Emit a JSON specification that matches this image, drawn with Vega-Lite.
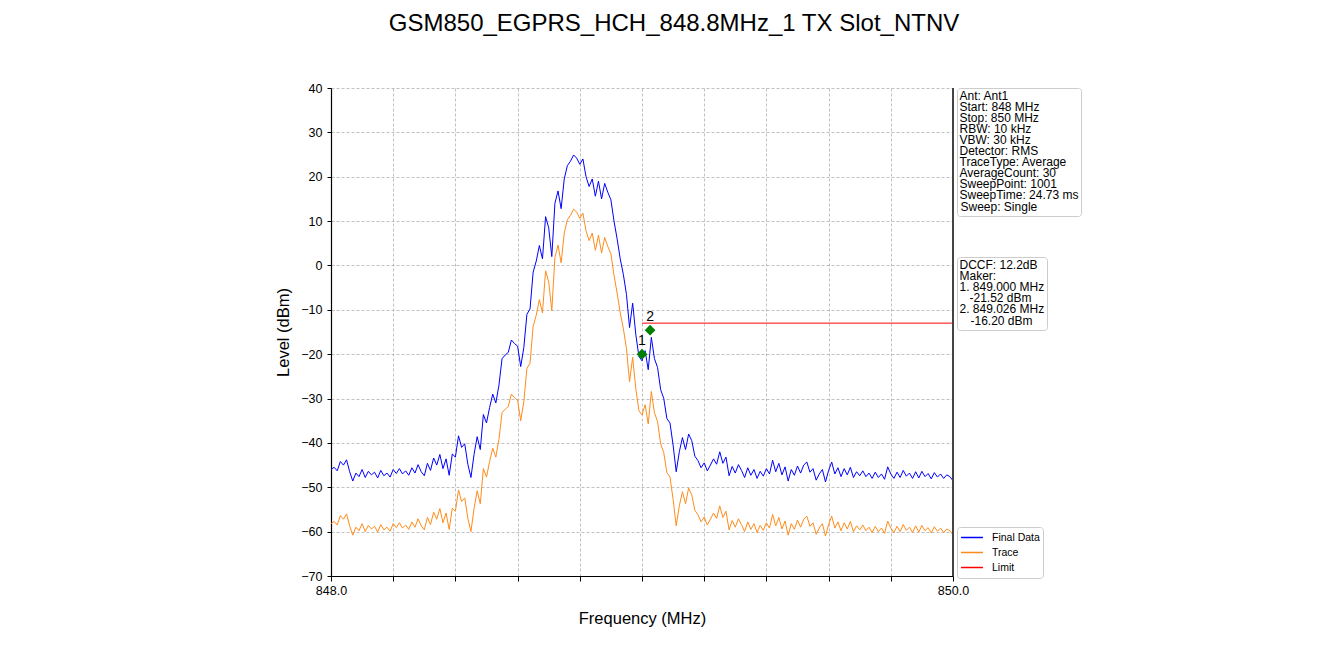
{
  "$schema": "https://vega.github.io/schema/vega-lite/v6.json",
  "width": 622,
  "height": 488,
  "autosize": {"type": "none"},
  "padding": {"left": 331, "top": 88, "right": 387, "bottom": 95},
  "background": "white",
  "title": {
    "text": "GSM850_EGPRS_HCH_848.8MHz_1 TX Slot_NTNV",
    "font": "Liberation Sans",
    "fontSize": 24,
    "fontWeight": "normal",
    "color": "black",
    "anchor": "middle",
    "frame": "group",
    "dx": 32,
    "offset": 46
  },
  "config": {
    "view": {"stroke": null},
    "font": "Liberation Sans",
    "axis": {
      "labelFont": "Liberation Sans",
      "titleFont": "Liberation Sans",
      "labelColor": "black",
      "titleColor": "black",
      "titleFontWeight": "normal",
      "labelFontSize": 12.5,
      "titleFontSize": 16.5,
      "domainColor": "black",
      "domainWidth": 1.2,
      "tickColor": "black",
      "gridColor": "#b0b0b0",
      "gridDash": [3, 2],
      "gridWidth": 0.8
    },
    "legend": {
      "labelFont": "Liberation Sans",
      "titleFont": "Liberation Sans",
      "labelColor": "black",
      "titleColor": "black"
    }
  },
  "data": {
    "values": [
      {"f": 848.00, "Final Data": -46.0, "Trace": -58.2},
      {"f": 848.01, "Final Data": -45.5, "Trace": -57.7},
      {"f": 848.02, "Final Data": -46.3, "Trace": -58.5},
      {"f": 848.03, "Final Data": -44.2, "Trace": -56.4},
      {"f": 848.04, "Final Data": -45.0, "Trace": -57.2},
      {"f": 848.05, "Final Data": -43.8, "Trace": -56.0},
      {"f": 848.06, "Final Data": -46.5, "Trace": -58.7},
      {"f": 848.07, "Final Data": -48.6, "Trace": -60.8},
      {"f": 848.08, "Final Data": -46.8, "Trace": -59.0},
      {"f": 848.09, "Final Data": -47.6, "Trace": -59.8},
      {"f": 848.10, "Final Data": -46.0, "Trace": -58.2},
      {"f": 848.11, "Final Data": -47.8, "Trace": -60.0},
      {"f": 848.12, "Final Data": -46.4, "Trace": -58.6},
      {"f": 848.13, "Final Data": -47.2, "Trace": -59.4},
      {"f": 848.14, "Final Data": -46.6, "Trace": -58.8},
      {"f": 848.15, "Final Data": -47.9, "Trace": -60.1},
      {"f": 848.16, "Final Data": -46.2, "Trace": -58.4},
      {"f": 848.17, "Final Data": -47.4, "Trace": -59.6},
      {"f": 848.18, "Final Data": -46.8, "Trace": -59.0},
      {"f": 848.19, "Final Data": -47.7, "Trace": -59.9},
      {"f": 848.20, "Final Data": -46.0, "Trace": -58.2},
      {"f": 848.21, "Final Data": -46.9, "Trace": -59.1},
      {"f": 848.22, "Final Data": -45.8, "Trace": -58.0},
      {"f": 848.23, "Final Data": -47.0, "Trace": -59.2},
      {"f": 848.24, "Final Data": -46.3, "Trace": -58.5},
      {"f": 848.25, "Final Data": -47.3, "Trace": -59.5},
      {"f": 848.26, "Final Data": -45.6, "Trace": -57.8},
      {"f": 848.27, "Final Data": -46.8, "Trace": -59.0},
      {"f": 848.28, "Final Data": -44.9, "Trace": -57.1},
      {"f": 848.29, "Final Data": -46.5, "Trace": -58.7},
      {"f": 848.30, "Final Data": -47.4, "Trace": -59.6},
      {"f": 848.31, "Final Data": -44.6, "Trace": -56.8},
      {"f": 848.32, "Final Data": -46.2, "Trace": -58.4},
      {"f": 848.33, "Final Data": -43.4, "Trace": -55.6},
      {"f": 848.34, "Final Data": -45.0, "Trace": -57.2},
      {"f": 848.35, "Final Data": -42.6, "Trace": -54.8},
      {"f": 848.36, "Final Data": -45.8, "Trace": -58.0},
      {"f": 848.37, "Final Data": -43.6, "Trace": -55.8},
      {"f": 848.38, "Final Data": -47.3, "Trace": -59.5},
      {"f": 848.39, "Final Data": -42.5, "Trace": -54.7},
      {"f": 848.40, "Final Data": -43.2, "Trace": -55.4},
      {"f": 848.41, "Final Data": -38.4, "Trace": -50.6},
      {"f": 848.42, "Final Data": -41.0, "Trace": -53.2},
      {"f": 848.43, "Final Data": -40.2, "Trace": -52.4},
      {"f": 848.44, "Final Data": -44.8, "Trace": -57.0},
      {"f": 848.45, "Final Data": -47.8, "Trace": -60.0},
      {"f": 848.46, "Final Data": -42.6, "Trace": -54.8},
      {"f": 848.47, "Final Data": -38.6, "Trace": -50.8},
      {"f": 848.48, "Final Data": -41.5, "Trace": -53.7},
      {"f": 848.49, "Final Data": -33.6, "Trace": -45.8},
      {"f": 848.50, "Final Data": -35.5, "Trace": -47.7},
      {"f": 848.51, "Final Data": -32.0, "Trace": -44.2},
      {"f": 848.52, "Final Data": -29.0, "Trace": -41.2},
      {"f": 848.53, "Final Data": -31.0, "Trace": -43.2},
      {"f": 848.54, "Final Data": -27.0, "Trace": -39.2},
      {"f": 848.55, "Final Data": -21.0, "Trace": -33.2},
      {"f": 848.56, "Final Data": -20.2, "Trace": -32.4},
      {"f": 848.57, "Final Data": -19.6, "Trace": -31.8},
      {"f": 848.58, "Final Data": -16.8, "Trace": -29.0},
      {"f": 848.59, "Final Data": -17.6, "Trace": -29.8},
      {"f": 848.60, "Final Data": -18.2, "Trace": -30.4},
      {"f": 848.61, "Final Data": -22.8, "Trace": -35.0},
      {"f": 848.62, "Final Data": -18.5, "Trace": -30.7},
      {"f": 848.63, "Final Data": -11.0, "Trace": -23.2},
      {"f": 848.64, "Final Data": -9.8, "Trace": -22.0},
      {"f": 848.65, "Final Data": -1.5, "Trace": -13.7},
      {"f": 848.66, "Final Data": 1.0, "Trace": -11.2},
      {"f": 848.67, "Final Data": 4.5, "Trace": -7.7},
      {"f": 848.68, "Final Data": 1.5, "Trace": -10.7},
      {"f": 848.69, "Final Data": 11.0, "Trace": -1.2},
      {"f": 848.70, "Final Data": 8.5, "Trace": -3.7},
      {"f": 848.71, "Final Data": 2.0, "Trace": -10.2},
      {"f": 848.72, "Final Data": 14.0, "Trace": 1.8},
      {"f": 848.73, "Final Data": 16.8, "Trace": 4.6},
      {"f": 848.74, "Final Data": 12.8, "Trace": 0.6},
      {"f": 848.75, "Final Data": 19.5, "Trace": 7.3},
      {"f": 848.76, "Final Data": 22.5, "Trace": 10.3},
      {"f": 848.77, "Final Data": 23.5, "Trace": 11.3},
      {"f": 848.78, "Final Data": 24.9, "Trace": 12.7},
      {"f": 848.79, "Final Data": 24.2, "Trace": 12.0},
      {"f": 848.80, "Final Data": 22.8, "Trace": 10.6},
      {"f": 848.81, "Final Data": 24.0, "Trace": 11.8},
      {"f": 848.82, "Final Data": 20.0, "Trace": 7.8},
      {"f": 848.83, "Final Data": 17.8, "Trace": 5.6},
      {"f": 848.84, "Final Data": 19.5, "Trace": 7.3},
      {"f": 848.85, "Final Data": 15.6, "Trace": 3.4},
      {"f": 848.86, "Final Data": 19.0, "Trace": 6.8},
      {"f": 848.87, "Final Data": 15.0, "Trace": 2.8},
      {"f": 848.88, "Final Data": 18.5, "Trace": 6.3},
      {"f": 848.89, "Final Data": 16.5, "Trace": 4.3},
      {"f": 848.90, "Final Data": 14.8, "Trace": 2.6},
      {"f": 848.91, "Final Data": 10.0, "Trace": -2.2},
      {"f": 848.92, "Final Data": 6.0, "Trace": -6.2},
      {"f": 848.93, "Final Data": 1.5, "Trace": -10.7},
      {"f": 848.94, "Final Data": -2.0, "Trace": -14.2},
      {"f": 848.95, "Final Data": -6.5, "Trace": -18.7},
      {"f": 848.96, "Final Data": -14.0, "Trace": -26.2},
      {"f": 848.97, "Final Data": -8.5, "Trace": -20.7},
      {"f": 848.98, "Final Data": -15.5, "Trace": -27.7},
      {"f": 848.99, "Final Data": -20.5, "Trace": -32.7},
      {"f": 849.00, "Final Data": -21.5, "Trace": -33.7},
      {"f": 849.01, "Final Data": -19.2, "Trace": -31.4},
      {"f": 849.02, "Final Data": -23.5, "Trace": -35.7},
      {"f": 849.03, "Final Data": -16.2, "Trace": -28.4},
      {"f": 849.04, "Final Data": -21.0, "Trace": -33.2},
      {"f": 849.05, "Final Data": -23.0, "Trace": -35.2},
      {"f": 849.06, "Final Data": -28.0, "Trace": -40.2},
      {"f": 849.07, "Final Data": -30.0, "Trace": -42.2},
      {"f": 849.08, "Final Data": -34.5, "Trace": -46.7},
      {"f": 849.09, "Final Data": -35.5, "Trace": -47.7},
      {"f": 849.10, "Final Data": -40.5, "Trace": -52.7},
      {"f": 849.11, "Final Data": -46.5, "Trace": -58.7},
      {"f": 849.12, "Final Data": -42.0, "Trace": -54.2},
      {"f": 849.13, "Final Data": -38.8, "Trace": -51.0},
      {"f": 849.14, "Final Data": -41.5, "Trace": -53.7},
      {"f": 849.15, "Final Data": -38.0, "Trace": -50.2},
      {"f": 849.16, "Final Data": -39.5, "Trace": -51.7},
      {"f": 849.17, "Final Data": -43.0, "Trace": -55.2},
      {"f": 849.18, "Final Data": -44.0, "Trace": -56.2},
      {"f": 849.19, "Final Data": -45.6, "Trace": -57.8},
      {"f": 849.20, "Final Data": -44.5, "Trace": -56.7},
      {"f": 849.21, "Final Data": -46.3, "Trace": -58.5},
      {"f": 849.22, "Final Data": -45.0, "Trace": -57.2},
      {"f": 849.23, "Final Data": -43.6, "Trace": -55.8},
      {"f": 849.24, "Final Data": -44.8, "Trace": -57.0},
      {"f": 849.25, "Final Data": -42.0, "Trace": -54.2},
      {"f": 849.26, "Final Data": -44.6, "Trace": -56.8},
      {"f": 849.27, "Final Data": -43.2, "Trace": -55.4},
      {"f": 849.28, "Final Data": -47.4, "Trace": -59.6},
      {"f": 849.29, "Final Data": -45.3, "Trace": -57.5},
      {"f": 849.30, "Final Data": -46.8, "Trace": -59.0},
      {"f": 849.31, "Final Data": -44.9, "Trace": -57.1},
      {"f": 849.32, "Final Data": -46.2, "Trace": -58.4},
      {"f": 849.33, "Final Data": -47.8, "Trace": -60.0},
      {"f": 849.34, "Final Data": -45.6, "Trace": -57.8},
      {"f": 849.35, "Final Data": -47.3, "Trace": -59.5},
      {"f": 849.36, "Final Data": -46.0, "Trace": -58.2},
      {"f": 849.37, "Final Data": -48.0, "Trace": -60.2},
      {"f": 849.38, "Final Data": -46.4, "Trace": -58.6},
      {"f": 849.39, "Final Data": -47.5, "Trace": -59.7},
      {"f": 849.40, "Final Data": -45.8, "Trace": -58.0},
      {"f": 849.41, "Final Data": -47.0, "Trace": -59.2},
      {"f": 849.42, "Final Data": -43.9, "Trace": -56.1},
      {"f": 849.43, "Final Data": -46.5, "Trace": -58.7},
      {"f": 849.44, "Final Data": -44.6, "Trace": -56.8},
      {"f": 849.45, "Final Data": -47.2, "Trace": -59.4},
      {"f": 849.46, "Final Data": -45.4, "Trace": -57.6},
      {"f": 849.47, "Final Data": -48.6, "Trace": -60.8},
      {"f": 849.48, "Final Data": -46.0, "Trace": -58.2},
      {"f": 849.49, "Final Data": -47.3, "Trace": -59.5},
      {"f": 849.50, "Final Data": -45.2, "Trace": -57.4},
      {"f": 849.51, "Final Data": -46.8, "Trace": -59.0},
      {"f": 849.52, "Final Data": -45.0, "Trace": -57.2},
      {"f": 849.53, "Final Data": -44.3, "Trace": -56.5},
      {"f": 849.54, "Final Data": -46.6, "Trace": -58.8},
      {"f": 849.55, "Final Data": -45.8, "Trace": -58.0},
      {"f": 849.56, "Final Data": -48.4, "Trace": -60.6},
      {"f": 849.57, "Final Data": -47.0, "Trace": -59.2},
      {"f": 849.58, "Final Data": -46.0, "Trace": -58.2},
      {"f": 849.59, "Final Data": -48.8, "Trace": -61.0},
      {"f": 849.60, "Final Data": -46.2, "Trace": -58.4},
      {"f": 849.61, "Final Data": -44.3, "Trace": -56.5},
      {"f": 849.62, "Final Data": -47.0, "Trace": -59.2},
      {"f": 849.63, "Final Data": -45.6, "Trace": -57.8},
      {"f": 849.64, "Final Data": -47.6, "Trace": -59.8},
      {"f": 849.65, "Final Data": -45.8, "Trace": -58.0},
      {"f": 849.66, "Final Data": -47.2, "Trace": -59.4},
      {"f": 849.67, "Final Data": -45.5, "Trace": -57.7},
      {"f": 849.68, "Final Data": -47.8, "Trace": -60.0},
      {"f": 849.69, "Final Data": -46.5, "Trace": -58.7},
      {"f": 849.70, "Final Data": -47.4, "Trace": -59.6},
      {"f": 849.71, "Final Data": -46.3, "Trace": -58.5},
      {"f": 849.72, "Final Data": -47.6, "Trace": -59.8},
      {"f": 849.73, "Final Data": -46.8, "Trace": -59.0},
      {"f": 849.74, "Final Data": -48.0, "Trace": -60.2},
      {"f": 849.75, "Final Data": -46.6, "Trace": -58.8},
      {"f": 849.76, "Final Data": -47.8, "Trace": -60.0},
      {"f": 849.77, "Final Data": -47.0, "Trace": -59.2},
      {"f": 849.78, "Final Data": -48.2, "Trace": -60.4},
      {"f": 849.79, "Final Data": -45.4, "Trace": -57.6},
      {"f": 849.80, "Final Data": -47.0, "Trace": -59.2},
      {"f": 849.81, "Final Data": -48.0, "Trace": -60.2},
      {"f": 849.82, "Final Data": -46.6, "Trace": -58.8},
      {"f": 849.83, "Final Data": -47.8, "Trace": -60.0},
      {"f": 849.84, "Final Data": -46.2, "Trace": -58.4},
      {"f": 849.85, "Final Data": -47.5, "Trace": -59.7},
      {"f": 849.86, "Final Data": -46.8, "Trace": -59.0},
      {"f": 849.87, "Final Data": -48.0, "Trace": -60.2},
      {"f": 849.88, "Final Data": -46.5, "Trace": -58.7},
      {"f": 849.89, "Final Data": -47.9, "Trace": -60.1},
      {"f": 849.90, "Final Data": -46.4, "Trace": -58.6},
      {"f": 849.91, "Final Data": -47.6, "Trace": -59.8},
      {"f": 849.92, "Final Data": -46.9, "Trace": -59.1},
      {"f": 849.93, "Final Data": -48.1, "Trace": -60.3},
      {"f": 849.94, "Final Data": -46.7, "Trace": -58.9},
      {"f": 849.95, "Final Data": -47.7, "Trace": -59.9},
      {"f": 849.96, "Final Data": -47.0, "Trace": -59.2},
      {"f": 849.97, "Final Data": -48.0, "Trace": -60.2},
      {"f": 849.98, "Final Data": -47.2, "Trace": -59.4},
      {"f": 849.99, "Final Data": -47.6, "Trace": -59.8},
      {"f": 850.00, "Final Data": -48.5, "Trace": -60.7}
    ]
  },
  "layer": [
    {
      "transform": [{"fold": ["Final Data", "Trace"], "as": ["series", "level"]}],
      "mark": {"type": "line", "strokeWidth": 1, "clip": true},
      "encoding": {
        "x": {
          "field": "f", "type": "quantitative",
          "scale": {"domain": [848, 850], "nice": false, "zero": false},
          "axis": {
            "title": "Frequency (MHz)",
            "values": [848, 848.2, 848.4, 848.6, 848.8, 849, 849.2, 849.4, 849.6, 849.8, 850],
            "labelExpr": "datum.value == 848 || datum.value == 850 ? format(datum.value, '.1f') : ''",
            "tickSize": 5,
            "labelPadding": 3,
            "titlePadding": 14,
            "labelFlush": false,
            "labelOverlap": false
          }
        },
        "y": {
          "field": "level", "type": "quantitative",
          "scale": {"domain": [-70, 40], "nice": false, "zero": false},
          "axis": {
            "title": "Level (dBm)",
            "values": [-70, -60, -50, -40, -30, -20, -10, 0, 10, 20, 30, 40],
            "tickSize": 4,
            "labelPadding": 5,
            "titlePadding": 9
          }
        },
        "color": {
          "field": "series", "type": "nominal",
          "scale": {"domain": ["Final Data", "Trace", "Limit"], "range": ["#0000ff", "#ff8c1a", "#ff0000"]},
          "legend": {
            "title": null,
            "orient": "none",
            "legendX": 626,
            "legendY": 439,
            "symbolType": "stroke",
            "symbolSize": 480,
            "symbolStrokeWidth": 1.3,
            "labelFontSize": 10.5,
            "labelOffset": 8,
            "rowPadding": 0,
            "clipHeight": 15,
            "padding": 3,
            "strokeColor": "#cccccc",
            "fillColor": "white",
            "cornerRadius": 3
          }
        }
      }
    },
    {
      "data": {"values": [{"f": 849.0, "level": -13, "series": "Limit"}, {"f": 850.0, "level": -13, "series": "Limit"}]},
      "mark": {"type": "line", "strokeWidth": 1},
      "encoding": {
        "x": {"field": "f", "type": "quantitative"},
        "y": {"field": "level", "type": "quantitative"},
        "color": {"field": "series", "type": "nominal"}
      }
    },
    {
      "mark": {"type": "rule", "color": "#444444", "strokeWidth": 1},
      "encoding": {"x": {"datum": 850}}
    },
    {
      "data": {"values": [{"f": 849.0, "level": -20.0, "label": "1"}, {"f": 849.026, "level": -14.6, "label": "2"}]},
      "layer": [
        {
          "mark": {"type": "point", "shape": "diamond", "filled": true, "color": "#007f00", "size": 115, "opacity": 1},
          "encoding": {
            "x": {"field": "f", "type": "quantitative"},
            "y": {"field": "level", "type": "quantitative"}
          }
        },
        {
          "mark": {"type": "text", "fontSize": 14, "color": "black", "dy": -13, "baseline": "middle", "align": "center"},
          "encoding": {
            "x": {"field": "f", "type": "quantitative"},
            "y": {"field": "level", "type": "quantitative"},
            "text": {"field": "label"}
          }
        }
      ]
    },
    {
      "data": {"values": [{"info": "Sweep: Single"}]},
      "mark": {"type": "point", "opacity": 0},
      "encoding": {
        "shape": {
          "field": "info", "type": "nominal",
          "legend": {
            "title": ["Ant: Ant1", "Start: 848 MHz", "Stop: 850 MHz", "RBW: 10 kHz", "VBW: 30 kHz", "Detector: RMS", "TraceType: Average", "AverageCount: 30", "SweepPoint: 1001", "SweepTime: 24.73 ms"],
            "titleFontSize": 12,
            "titleFontWeight": "normal",
            "titleLineHeight": 11.1,
            "titlePadding": -1,
            "titleLimit": 300,
            "orient": "none",
            "legendX": 626,
            "legendY": 0,
            "symbolSize": 1,
            "symbolOpacity": 0,
            "symbolStrokeWidth": 0,
            "labelOffset": -11,
            "labelFontSize": 12,
            "rowPadding": 0,
            "padding": 2.5,
            "strokeColor": "#cccccc",
            "fillColor": "white",
            "cornerRadius": 3
          }
        }
      }
    },
    {
      "data": {"values": [{"mk": "\u200b\u00a0\u00a0\u00a0-16.20 dBm"}]},
      "mark": {"type": "point", "opacity": 0},
      "encoding": {
        "strokeDash": {
          "field": "mk", "type": "nominal",
          "legend": {
            "title": ["DCCF: 12.2dB", "Maker:", "1. 849.000 MHz", "\u200b\u00a0\u00a0\u00a0-21.52 dBm", "2. 849.026 MHz"],
            "titleFontSize": 12,
            "titleFontWeight": "normal",
            "titleLineHeight": 11.1,
            "titlePadding": -1,
            "titleLimit": 300,
            "orient": "none",
            "legendX": 626,
            "legendY": 169,
            "symbolSize": 1,
            "symbolOpacity": 0,
            "symbolStrokeWidth": 0,
            "labelOffset": -11,
            "labelFontSize": 12,
            "rowPadding": 0,
            "padding": 2.5,
            "strokeColor": "#cccccc",
            "fillColor": "white",
            "cornerRadius": 3
          }
        }
      }
    }
  ]
}
